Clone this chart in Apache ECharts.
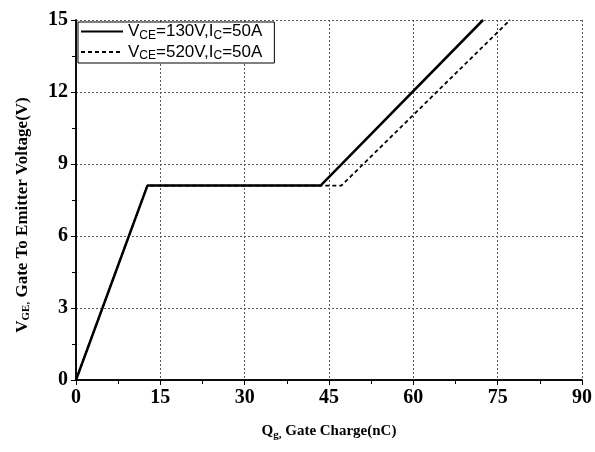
<!DOCTYPE html>
<html><head><meta charset="utf-8">
<script src="https://cdn.jsdelivr.net/npm/echarts@6/dist/echarts.min.js"></script>
<style>html,body{margin:0;padding:0;background:#fff}#c{width:595px;height:452px}</style>
</head><body><div id="c"></div>
<script>
const seriesNames = ['VCE130', 'VCE520'];
const legendVolts = ['130', '520'];
const solidQ = [0, 12.7, 43.5, 72.4];
const solidV = [0, 8.1, 8.1, 15];
const dashedQ = [0, 12.7, 47.2, 77.2];
const dashedV = [0, 8.1, 8.1, 15];
const xTicks = [0, 15, 30, 45, 60, 75, 90];
const yTicks = [0, 3, 6, 9, 12, 15];

const serif = 'Liberation Serif';
const sans = 'Liberation Sans';
const chart = echarts.init(document.getElementById('c'), null, {renderer: 'canvas'});
const pairs = (xs, ys) => xs.map((x, i) => [x, ys[i]]);
const rich = {
  n: {fontFamily: sans, fontSize: 17, color: '#000'},
  s: {fontFamily: sans, fontSize: 12, color: '#000', padding: [8, 0, 0, 0]}
};
chart.setOption({
  animation: false,
  grid: {left: 76, right: 8, top: 20, bottom: 72},
  legend: {
    show: true,
    left: 78, top: 22, orient: 'vertical', itemGap: 2, itemWidth: 42, itemHeight: 16,
    borderColor: '#000', borderWidth: 1, backgroundColor: '#fff', padding: [1, 12, 1, 2],
    itemStyle: {color: 'rgba(0,0,0,0)', borderColor: 'rgba(0,0,0,0)', borderWidth: 0, opacity: 0},
    data: seriesNames,
    formatter: n => '{n|V}{s|CE}{n|=' + legendVolts[seriesNames.indexOf(n)] + 'V,I}{s|C}{n|=50A}',
    textStyle: {rich: rich, fontFamily: sans, fontSize: 17, color: '#000'}
  },
  xAxis: [{
    type: 'value', min: 0, max: 90, interval: 15,
    name: '{a|Q}{b|g,}{a| Gate Charge(nC)}', nameLocation: 'middle', nameGap: 42,
    nameTextStyle: {rich: {
      a: {fontFamily: serif, fontWeight: 'bold', fontSize: 15, color: '#000'},
      b: {fontFamily: serif, fontWeight: 'bold', fontSize: 11, color: '#000', padding: [8, 0, 0, 0]}
    }},
    axisLine: {lineStyle: {color: '#000', width: 1.5}},
    axisTick: {inside: false, length: 5, lineStyle: {color: '#000', width: 1}},
    minorTick: {show: true, splitNumber: 2, length: 4, lineStyle: {color: '#000'}},
    axisLabel: {fontFamily: serif, fontWeight: 'bold', fontSize: 20, color: '#000', margin: 8,
      formatter: v => xTicks.includes(v) ? String(v) : ''},
    splitLine: {show: true, lineStyle: {color: '#555', type: [2, 2], width: 1}}
  }, {
    type: 'value', min: 0, max: 90, interval: 15, position: 'top',
    axisLine: {show: true, lineStyle: {color: '#000', width: 1.5}},
    axisTick: {show: false}, axisLabel: {show: false}, splitLine: {show: false}
  }],
  yAxis: [{
    type: 'value', min: 0, max: 15, interval: 3,
    name: '{a|V}{b|GE,}{a| Gate To Emitter Voltage(V)}', nameLocation: 'middle', nameGap: 44, nameRotate: 90,
    nameTextStyle: {padding: [0, 30, 0, 0], rich: {
      a: {fontFamily: serif, fontWeight: 'bold', fontSize: 17, color: '#000'},
      b: {fontFamily: serif, fontWeight: 'bold', fontSize: 11, color: '#000', padding: [8, 0, 0, 0]}
    }},
    axisLine: {show: true, lineStyle: {color: '#000', width: 1.5}},
    axisTick: {inside: false, length: 5, lineStyle: {color: '#000'}},
    minorTick: {show: true, splitNumber: 2, length: 4, lineStyle: {color: '#000'}},
    axisLabel: {fontFamily: serif, fontWeight: 'bold', fontSize: 20, color: '#000', margin: 8,
      formatter: v => yTicks.includes(v) ? String(v) : ''},
    splitLine: {show: true, lineStyle: {color: '#555', type: [2, 2], width: 1}}
  }, {
    type: 'value', min: 0, max: 15, interval: 3, position: 'right',
    axisLine: {show: true, lineStyle: {color: '#000', width: 1.5}},
    axisTick: {show: false}, axisLabel: {show: false}, splitLine: {show: false}
  }],
  series: [{
    name: seriesNames[0], type: 'line', data: pairs(solidQ, solidV), showSymbol: false, symbol: 'none', z: 3,
    lineStyle: {color: '#000', width: 2.5, type: 'solid'}, itemStyle: {color: '#000'}
  }, {
    name: seriesNames[1], type: 'line', data: pairs(dashedQ, dashedV), showSymbol: false, symbol: 'none', z: 2,
    lineStyle: {color: '#000', width: 1.8, type: [4, 3]}, itemStyle: {color: '#000'}
  }]
});
</script></body></html>
